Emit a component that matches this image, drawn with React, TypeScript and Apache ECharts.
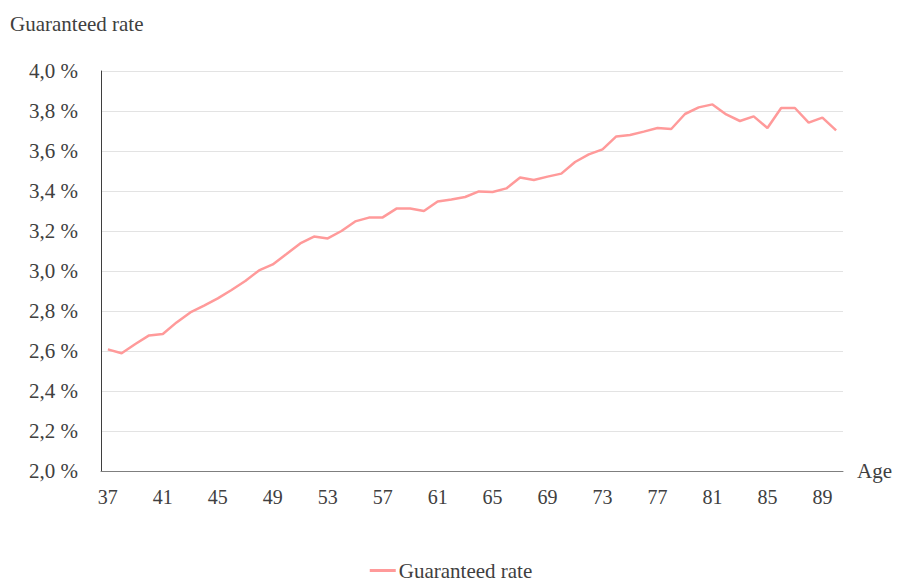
import React, { useEffect, useRef } from "react";
import * as echarts from "echarts";

const ages: string[] = [];
for (let a = 37; a <= 90; a++) ages.push(String(a));

const guaranteedRate = [
  2.608, 2.589, 2.635, 2.678, 2.685, 2.743, 2.793, 2.827, 2.863, 2.905,
  2.95, 3.003, 3.033, 3.085, 3.138, 3.172, 3.163, 3.2, 3.248, 3.267,
  3.268, 3.312, 3.313, 3.3, 3.348, 3.358, 3.37, 3.398, 3.395, 3.413,
  3.468, 3.455, 3.472, 3.487, 3.545, 3.583, 3.608, 3.673, 3.68, 3.697,
  3.715, 3.71, 3.785, 3.818, 3.833, 3.783, 3.75, 3.773, 3.715, 3.815,
  3.815, 3.742, 3.767, 3.703,
];

const FONT = "'Liberation Serif', 'DejaVu Serif', serif";
const TEXT = "#404040";

export default function App() {
  const ref = useRef<HTMLDivElement>(null);
  useEffect(() => {
    document.body.style.margin = "0";
    if (!ref.current) return;
    const chart = echarts.init(ref.current, undefined, { renderer: "svg" });
    chart.setOption({
      animation: false,
      textStyle: { fontFamily: FONT },
      title: {
        text: "Guaranteed rate",
        left: 5,
        top: 8,
        textStyle: { fontFamily: FONT, fontSize: 21, fontWeight: "normal", color: TEXT },
      },
      legend: {
        top: 560,
        left: "center",
        padding: 0,
        itemWidth: 26,
        itemHeight: 3,
        itemGap: 4,
        icon: "rect",
        textStyle: { fontFamily: FONT, fontSize: 21, color: TEXT, padding: [0, 0, 0, -2] },
        data: ["Guaranteed rate"],
      },
      grid: { left: 101, right: 59, top: 71, bottom: 111, containLabel: false },
      xAxis: {
        type: "category",
        data: ages,
        boundaryGap: true,
        name: "Age",
        nameLocation: "end",
        nameGap: 14,
        nameTextStyle: { fontFamily: FONT, fontSize: 21, color: TEXT, verticalAlign: "middle" },
        axisLine: { lineStyle: { color: "#7f7f7f", width: 1 } },
        axisTick: { show: false },
        axisLabel: { interval: 3, margin: 16, fontFamily: FONT, fontSize: 20, color: TEXT },
      },
      yAxis: {
        type: "value",
        min: 2.0,
        max: 4.0,
        interval: 0.2,
        axisLine: { show: true, lineStyle: { color: "#3f3f3f", width: 1 } },
        axisTick: { show: false },
        splitLine: { lineStyle: { color: "#e3e3e3", width: 1 } },
        axisLabel: {
          margin: 23,
          fontFamily: FONT,
          fontSize: 21,
          color: TEXT,
          formatter: (v: number) => v.toFixed(1).replace(".", ",") + " %",
        },
      },
      series: [
        {
          name: "Guaranteed rate",
          type: "line",
          data: guaranteedRate,
          symbol: "none",
          lineStyle: { color: "#ff9a9a", width: 2.5 },
          itemStyle: { color: "#ff9a9a" },
        },
      ],
    });
    return () => chart.dispose();
  }, []);
  return <div ref={ref} style={{ width: 902, height: 582 }} />;
}
